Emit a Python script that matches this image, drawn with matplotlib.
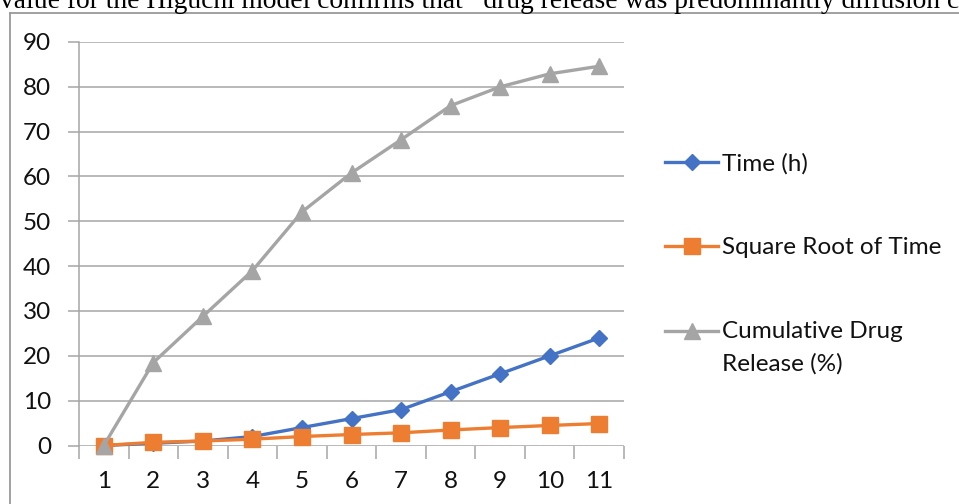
import matplotlib
matplotlib.use('Agg')
import numpy as np
import matplotlib.pyplot as plt
from matplotlib.lines import Line2D
from matplotlib.legend_handler import HandlerLine2D

categories = [1, 2, 3, 4, 5, 6, 7, 8, 9, 10, 11]
time_h = [0, 0.5, 1, 2, 4, 6, 8, 12, 16, 20, 24]
sqrt_time = [0, 0.71, 1.0, 1.41, 2.0, 2.45, 2.83, 3.46, 4.0, 4.47, 4.9]
cum_release = [0, 18.5, 28.8, 39.0, 52.1, 60.8, 68.2, 75.8, 80.0, 82.9, 84.6]
y_ticks = [0, 10, 20, 30, 40, 50, 60, 70, 80, 90]
series_labels = ['Time (h)', 'Square Root of Time', 'Cumulative Drug\nRelease (%)']
caption = 'value for the Higuchi model confirms that   drug release was predominantly diffusion c'

plt.rcParams['font.family'] = ['Lato', 'DejaVu Sans']
GRID = '#A6A6A6'
TXT = '#111111'
FS = 17.5

fig = plt.figure(figsize=(9.59, 5.04), dpi=100)
ax = fig.add_axes([79/959, 1-445.5/504, (624-79)/959, (445.5-42)/504])

x = np.arange(len(categories))
l1, = ax.plot(x, time_h, color='#4472C4', lw=2.4, marker='D', ms=7.8, zorder=3, clip_on=False)
l2, = ax.plot(x, sqrt_time, color='#ED7D31', lw=2.4, marker='s', ms=11.5, zorder=4, clip_on=False)
l3, = ax.plot(x, cum_release, color='#A5A5A5', lw=2.4, marker='^', ms=12, zorder=5, clip_on=False)

ax.set_xlim(-0.5, len(categories) - 0.5)
ax.set_ylim(0, 90)
ax.set_yticks(y_ticks)
ax.yaxis.grid(True, color=GRID, lw=1.1)
ax.set_axisbelow(True)
for s in ['top', 'right', 'bottom']:
    ax.spines[s].set_visible(False)
ax.spines['left'].set_color(GRID)
ax.spines['left'].set_linewidth(1.1)
ax.tick_params(axis='y', length=8, color=GRID, width=1.1, pad=12, labelsize=FS, labelcolor=TXT)
ax.set_xticks(x, [str(c) for c in categories])
ax.set_xticks(np.arange(len(categories) + 1) - 0.5, minor=True)
ax.tick_params(axis='x', which='major', length=0, pad=18, labelsize=FS, labelcolor=TXT)
ax.tick_params(axis='x', which='minor', length=9, color=GRID, width=1.1)

def shift_up(legend_handle, orig_handle):
    legend_handle.update_from(orig_handle)
    yd = np.asarray(legend_handle.get_ydata(), dtype=float)
    legend_handle.set_ydata(yd + 12.0)

leg = fig.legend([l1, l2, l3], series_labels, loc='upper left',
                 bbox_to_anchor=(665/959, 1-153/504), frameon=False,
                 handlelength=2.2, handletextpad=0.15, labelspacing=2.58,
                 borderpad=0, borderaxespad=0, fontsize=FS,
                 handler_map={l3: HandlerLine2D(update_func=shift_up)})
for t in leg.get_texts():
    t.set_color(TXT)
    t.set_linespacing(1.62)

# outer chart border
fig.add_artist(Line2D([10/959, 10/959], [0, 1-13/504], transform=fig.transFigure, color='#9A9A9A', lw=1.3))
fig.add_artist(Line2D([10/959, 1], [1-13/504, 1-13/504], transform=fig.transFigure, color='#9A9A9A', lw=1.3))

fig.text(0, 1-8/504, caption, family=['Liberation Serif', 'DejaVu Serif'], fontsize=19.8,
         va='baseline', ha='left', color='black')

fig.savefig('out.png', dpi=100)
